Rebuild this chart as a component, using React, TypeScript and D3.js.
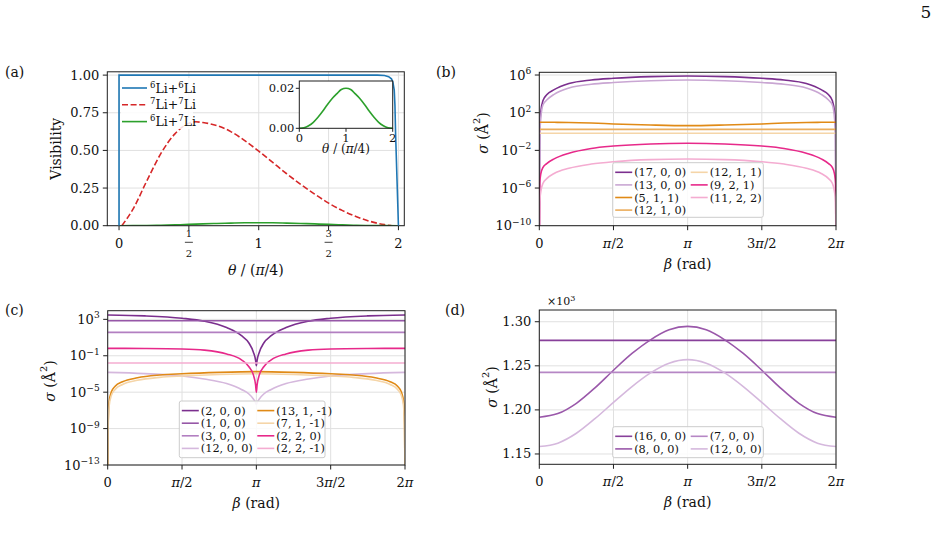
import React, { useRef, useEffect } from "react";
import * as d3 from "d3";

const W = 939;
const H = 546;
const FONT = "'DejaVu Serif', 'Liberation Serif', serif";
const INK = "#1e1e1e";
const GRID = "#e0e0e0";
const TICK_FS = 13;
const LABEL_FS = 14;
const LEGEND_FS = 11.3;

// (a) visibility against theta / (pi/4)
const thetaLi66 = [0, 0, 1.85, 1.9, 1.93, 1.95, 1.96, 1.97, 1.975, 1.98, 1.99, 2.0];
const visLi66 = [0, 1.0, 1.0, 0.997, 0.99, 0.975, 0.955, 0.9, 0.8, 0.6, 0.3, 0];
const thetaLi77 = [0.02, 0.1, 0.2, 0.3, 0.4, 0.5, 0.55, 0.6, 0.7, 0.8, 0.9, 1.0, 1.1, 1.2, 1.3, 1.4, 1.5, 1.6, 1.7, 1.8, 1.9, 1.95];
const visLi77 = [0, 0.11, 0.3, 0.48, 0.61, 0.68, 0.69, 0.685, 0.665, 0.625, 0.565, 0.495, 0.42, 0.345, 0.275, 0.21, 0.15, 0.1, 0.06, 0.028, 0.007, 0];
const thetaLi67 = [0, 0.1, 0.2, 0.3, 0.4, 0.5, 0.6, 0.7, 0.8, 0.9, 1.0, 1.1, 1.2, 1.3, 1.4, 1.5, 1.6, 1.7, 1.8, 1.9, 2.0];
const visLi67 = [0, 0.0003, 0.0013, 0.003, 0.0055, 0.0085, 0.0118, 0.0148, 0.0172, 0.0194, 0.02, 0.0194, 0.0172, 0.0148, 0.0118, 0.0085, 0.0055, 0.003, 0.0013, 0.0003, 0];
const visTicks = [0, 0.25, 0.5, 0.75, 1.0];
const visTickLabels = ["0.00", "0.25", "0.50", "0.75", "1.00"];
const thetaTicks = [0, 0.5, 1, 1.5, 2];

// beta grids, in units of pi
const betaEdge = [0, 0.003, 0.01, 0.025, 0.05, 0.1, 0.2, 0.35, 0.5, 0.75, 1, 1.25, 1.5, 1.65, 1.8, 1.9, 1.95, 1.975, 1.99, 1.997, 2];
const betaCusp = [0, 0.25, 0.5, 0.65, 0.8, 0.9, 0.95, 0.98, 0.995, 1, 1.005, 1.02, 1.05, 1.1, 1.2, 1.35, 1.5, 1.75, 2];
const betaSmooth = [0, 0.125, 0.25, 0.375, 0.5, 0.625, 0.75, 0.875, 1, 1.125, 1.25, 1.375, 1.5, 1.625, 1.75, 1.875, 2];
const betaFlat = [0, 2];
const betaTicks = [0, 0.5, 1, 1.5, 2];

// (b) cross sections, A^2
const sigB_17_0_0 = [1e-12, 3.2, 126, 2.0e3, 7.9e3, 2.8e4, 1.26e5, 3.0e5, 4.5e5, 6.8e5, 7.9e5, 6.8e5, 4.5e5, 3.0e5, 1.26e5, 2.8e4, 7.9e3, 2.0e3, 126, 3.2, 1e-12];
const sigB_13_0_0 = [1e-12, 0.32, 25, 710, 2.2e3, 8.9e3, 4.2e4, 1.05e5, 1.6e5, 2.5e5, 2.95e5, 2.5e5, 1.6e5, 1.05e5, 4.2e4, 8.9e3, 2.2e3, 710, 25, 0.32, 1e-12];
const sigB_5_1_1 = [9.6, 9.6, 9.6, 9.6, 9.6, 9.5, 9.2, 8.0, 6.4, 4.9, 4.2, 4.9, 6.4, 8.0, 9.2, 9.5, 9.6, 9.6, 9.6, 9.6, 9.6];
const sigB_12_1_0 = [1.7, 1.7];
const sigB_12_1_1 = [0.65, 0.65];
const sigB_9_2_1 = [1e-12, 3.2e-6, 3.2e-5, 1.6e-4, 4e-4, 1.26e-3, 5e-3, 1.6e-2, 2.9e-2, 4.8e-2, 5.6e-2, 4.8e-2, 2.9e-2, 1.6e-2, 5e-3, 1.26e-3, 4e-4, 1.6e-4, 3.2e-5, 3.2e-6, 1e-12];
const sigB_11_2_2 = [1e-12, 3.2e-8, 4e-7, 3.2e-6, 1e-5, 3.5e-5, 1.26e-4, 3.5e-4, 6.3e-4, 1.05e-3, 1.2e-3, 1.05e-3, 6.3e-4, 3.5e-4, 1.26e-4, 3.5e-5, 1e-5, 3.2e-6, 4e-7, 3.2e-8, 1e-12];

// (c)
const sigC_2_0_0 = [3000, 2400, 1320, 630, 126, 16, 2.5, 0.25, 0.032, 0.008, 0.032, 0.25, 2.5, 16, 126, 630, 1320, 2400, 3000];
const sigC_1_0_0 = [710, 710];
const sigC_3_0_0 = [37, 37];
const sigC_12_0_0 = [1.5e-3, 1.1e-3, 6e-4, 2.8e-4, 8.9e-5, 2e-5, 6.3e-6, 1.8e-6, 7e-7, 4.5e-7, 7e-7, 1.8e-6, 6.3e-6, 2e-5, 8.9e-5, 2.8e-4, 6e-4, 1.1e-3, 1.5e-3];
const sigC_13_1_m1 = [1e-14, 3.2e-9, 1e-6, 1.1e-5, 4.5e-5, 1.4e-4, 3.8e-4, 7.6e-4, 1.05e-3, 1.5e-3, 1.8e-3, 1.5e-3, 1.05e-3, 7.6e-4, 3.8e-4, 1.4e-4, 4.5e-5, 1.1e-5, 1e-6, 3.2e-9, 1e-14];
const sigC_7_1_m1 = [1e-14, 1e-9, 3.2e-7, 4.5e-6, 2e-5, 7e-5, 2e-4, 4.2e-4, 6e-4, 8.9e-4, 1.07e-3, 8.9e-4, 6e-4, 4.2e-4, 2e-4, 7e-5, 2e-5, 4.5e-6, 3.2e-7, 1e-9, 1e-14];
const sigC_2_2_0 = [0.65, 0.63, 0.56, 0.42, 0.16, 0.035, 6.3e-3, 7.9e-4, 6.3e-5, 1e-5, 6.3e-5, 7.9e-4, 6.3e-3, 0.035, 0.16, 0.42, 0.56, 0.63, 0.65];
const sigC_2_2_m1 = [0.016, 0.016];

// (d)
const sigD_16_0_0 = [1278.8, 1278.8];
const sigD_8_0_0 = [1191.7, 1195.8, 1207.5, 1225, 1245, 1264, 1279.5, 1290.8, 1294.7, 1290.8, 1279.5, 1264, 1245, 1225, 1207.5, 1195.8, 1191.7];
const sigD_7_0_0 = [1242.6, 1242.6];
const sigD_12_0_0 = [1158.5, 1162.3, 1173.5, 1190, 1208.5, 1226.5, 1242, 1253, 1257, 1253, 1242, 1226.5, 1208.5, 1190, 1173.5, 1162.3, 1158.5];
const dTicks = [1150, 1200, 1250, 1300];
const dTickLabels = ["1.15", "1.20", "1.25", "1.30"];

type Box = { l: number; r: number; t: number; b: number };
type Series = { label: string; color: string; beta: number[]; sigma: number[] };

function txt(g: any, x: number, y: number, size: number, anchor = "middle") {
  return g
    .append("text")
    .attr("x", x)
    .attr("y", y)
    .attr("font-size", size)
    .attr("text-anchor", anchor)
    .attr("font-family", FONT)
    .attr("fill", "#111");
}

// "10" with a raised exponent
function pow10(t: any, exp: number, size: number) {
  t.append("tspan").text("10");
  t.append("tspan")
    .attr("font-size", size * 0.7)
    .attr("dy", -size * 0.42)
    .text(exp < 0 ? "\u2212" + -exp : String(exp));
}

function piLabel(t: any, v: number) {
  const it = (s: string) => t.append("tspan").attr("font-style", "italic").text(s);
  const up = (s: string) => t.append("tspan").text(s);
  if (v === 0) up("0");
  else if (v === 0.5) { it("\u03c0"); up("/2"); }
  else if (v === 1) it("\u03c0");
  else if (v === 1.5) { up("3"); it("\u03c0"); up("/2"); }
  else { up("2"); it("\u03c0"); }
}

function sigmaLabel(g: any, x: number, y: number) {
  const t = txt(g, 0, 0, LABEL_FS).attr("transform", `translate(${x},${y}) rotate(-90)`);
  t.append("tspan").attr("font-style", "italic").text("\u03c3");
  t.append("tspan").text(" (\u00c5");
  t.append("tspan").attr("font-size", LABEL_FS * 0.7).attr("dy", -LABEL_FS * 0.55).text("2");
  t.append("tspan").attr("dy", LABEL_FS * 0.55).text(")");
}

function frame(g: any, box: Box) {
  g.append("rect")
    .attr("x", box.l)
    .attr("y", box.t)
    .attr("width", box.r - box.l)
    .attr("height", box.b - box.t)
    .attr("fill", "none")
    .attr("stroke", INK)
    .attr("stroke-width", 1);
}

function grid(g: any, box: Box, xs: number[], ys: number[]) {
  xs.forEach((px) =>
    g.append("line").attr("x1", px).attr("x2", px).attr("y1", box.t).attr("y2", box.b).attr("stroke", GRID).attr("stroke-width", 1)
  );
  ys.forEach((py) =>
    g.append("line").attr("x1", box.l).attr("x2", box.r).attr("y1", py).attr("y2", py).attr("stroke", GRID).attr("stroke-width", 1)
  );
}

function ticks(g: any, box: Box, xs: number[], ys: number[], len = 4.5) {
  xs.forEach((px) =>
    g.append("line").attr("x1", px).attr("x2", px).attr("y1", box.b).attr("y2", box.b + len).attr("stroke", INK)
  );
  ys.forEach((py) =>
    g.append("line").attr("x1", box.l - len).attr("x2", box.l).attr("y1", py).attr("y2", py).attr("stroke", INK)
  );
}

function clip(svg: any, id: string, box: Box) {
  svg.append("defs")
    .append("clipPath")
    .attr("id", id)
    .append("rect")
    .attr("x", box.l)
    .attr("y", box.t)
    .attr("width", box.r - box.l)
    .attr("height", box.b - box.t);
}

function legendBox(g: any, x: number, y: number, w: number, h: number, stroke = "#cccccc") {
  g.append("rect")
    .attr("x", x)
    .attr("y", y)
    .attr("width", w)
    .attr("height", h)
    .attr("rx", 2)
    .attr("fill", "#fff")
    .attr("fill-opacity", 0.85)
    .attr("stroke", stroke)
    .attr("stroke-width", 1);
}

function drawBetaPanel(
  svg: any,
  id: string,
  box: Box,
  y: any,
  yTicks: number[],
  yTickText: (t: any, v: number, i: number) => void,
  series: Series[],
  leg: { x: number; y: number; w: number; h: number; rows: number },
  yLabel: { x: number; y: number }
) {
  const g = svg.append("g");
  const x = d3.scaleLinear().domain([0, 2 * Math.PI]).range([box.l, box.r]);
  const xs = betaTicks.map((b) => x(b * Math.PI));
  const ys = yTicks.map((v) => y(v));
  clip(svg, id, box);
  grid(g, box, xs, ys);

  const plot = g.append("g").attr("clip-path", `url(#${id})`);
  series.forEach((s) => {
    const line = d3
      .line<number>()
      .x((_, i) => x(s.beta[i] * Math.PI))
      .y((v) => y(v))
      .curve(d3.curveMonotoneX);
    plot.append("path").attr("d", line(s.sigma)).attr("fill", "none").attr("stroke", s.color).attr("stroke-width", 1.6);
  });

  frame(g, box);
  ticks(g, box, xs, ys);

  betaTicks.forEach((b, i) => piLabel(txt(g, xs[i], box.b + 22, TICK_FS), b));
  yTicks.forEach((v, i) => yTickText(txt(g, box.l - 8, ys[i] + 4.5, TICK_FS, "end"), v, i));

  const xl = txt(g, (box.l + box.r) / 2, box.b + 43, LABEL_FS);
  xl.append("tspan").attr("font-style", "italic").text("\u03b2");
  xl.append("tspan").text(" (rad)");
  sigmaLabel(g, yLabel.x, yLabel.y);

  // two-column legend, filled column by column
  legendBox(g, leg.x, leg.y, leg.w, leg.h);
  series.forEach((s, i) => {
    const col = Math.floor(i / leg.rows);
    const row = i % leg.rows;
    const hx = leg.x + 2.5 + col * 75.5;
    const hy = leg.y + 9.6 + row * 12.6;
    g.append("line").attr("x1", hx).attr("x2", hx + 17).attr("y1", hy).attr("y2", hy).attr("stroke", s.color).attr("stroke-width", 1.6);
    txt(g, hx + 19, hy + 4, LEGEND_FS, "start").text(s.label);
  });
}

function drawPanelA(svg: any) {
  const box: Box = { l: 107.3, r: 404.3, t: 71.8, b: 225.7 };
  const g = svg.append("g");
  const x = d3.scaleLinear().domain([-0.084, 2.042]).range([box.l, box.r]);
  const y = d3.scaleLinear().domain([0, 1.022]).range([box.b, box.t]);
  const xs = thetaTicks.map((v) => x(v));
  const ys = visTicks.map((v) => y(v));
  clip(svg, "clip-a", box);
  grid(g, box, xs, ys);

  const plot = g.append("g").attr("clip-path", "url(#clip-a)");
  const lin = (th: number[], curve: any) =>
    d3.line<number>().x((_, i) => x(th[i])).y((v) => y(v)).curve(curve);
  plot.append("path").attr("d", lin(thetaLi77, d3.curveMonotoneX)(visLi77)).attr("fill", "none").attr("stroke", "#d62728").attr("stroke-width", 1.6).attr("stroke-dasharray", "6,2.6");
  plot.append("path").attr("d", lin(thetaLi67, d3.curveMonotoneX)(visLi67)).attr("fill", "none").attr("stroke", "#2ca02c").attr("stroke-width", 1.6);

  frame(g, box);
  ticks(g, box, xs, ys);

  visTickLabels.forEach((s, i) => txt(g, box.l - 8, ys[i] + 4.5, TICK_FS, "end").text(s));
  thetaTicks.forEach((v, i) => {
    if (v % 1 === 0) {
      txt(g, xs[i], box.b + 22, TICK_FS).text(String(v));
    } else {
      const num = v === 0.5 ? "1" : "3";
      txt(g, xs[i], box.b + 11.5, 10).text(num);
      g.append("line").attr("x1", xs[i] - 4).attr("x2", xs[i] + 4).attr("y1", box.b + 16.6).attr("y2", box.b + 16.6).attr("stroke", "#111").attr("stroke-width", 0.8);
      txt(g, xs[i], box.b + 31, 10).text("2");
    }
  });

  const xl = txt(g, (box.l + box.r) / 2, box.b + 49, LABEL_FS);
  xl.append("tspan").attr("font-style", "italic").text("\u03b8");
  xl.append("tspan").text(" / (");
  xl.append("tspan").attr("font-style", "italic").text("\u03c0");
  xl.append("tspan").text("/4)");
  txt(g, 0, 0, LABEL_FS).attr("transform", `translate(61,${(box.t + box.b) / 2}) rotate(-90)`).text("Visibility");

  // legend with a borderless white backing
  legendBox(g, 121, 78, 72, 51, "none");
  // the 6Li+6Li curve hugs the frame, so it stays above the legend backing
  g.append("g").attr("clip-path", "url(#clip-a)")
    .append("path").attr("d", lin(thetaLi66, d3.curveLinear)(visLi66)).attr("fill", "none").attr("stroke", "#1f77b4").attr("stroke-width", 1.6);
  const entries = [
    { c: "#1f77b4", dash: null, a: "6", b: "6" },
    { c: "#d62728", dash: "6,2.6", a: "7", b: "7" },
    { c: "#2ca02c", dash: null, a: "6", b: "7" },
  ];
  entries.forEach((e, i) => {
    const hy = 88 + i * 16.8;
    const ln = g.append("line").attr("x1", 122).attr("x2", 147).attr("y1", hy).attr("y2", hy).attr("stroke", e.c).attr("stroke-width", 1.6);
    if (e.dash) ln.attr("stroke-dasharray", e.dash);
    const t = txt(g, 150, hy + 4.5, 12.5, "start");
    t.append("tspan").attr("font-size", 8.5).attr("dy", -5).text(e.a);
    t.append("tspan").attr("dy", 5).text("Li+");
    t.append("tspan").attr("font-size", 8.5).attr("dy", -5).text(e.b);
    t.append("tspan").attr("dy", 5).text("Li");
  });

  // inset: the 6Li+7Li curve on its own scale
  const ib: Box = { l: 299.3, r: 392.7, t: 81, b: 128.3 };
  const ix = d3.scaleLinear().domain([0, 2]).range([ib.l, ib.r]);
  const iy = d3.scaleLinear().domain([0, 0.02365]).range([ib.b, ib.t]);
  g.append("rect").attr("x", ib.l).attr("y", ib.t).attr("width", ib.r - ib.l).attr("height", ib.b - ib.t).attr("fill", "#fff");
  const iline = d3.line<number>().x((_, i) => ix(thetaLi67[i])).y((v) => iy(v)).curve(d3.curveMonotoneX);
  g.append("path").attr("d", iline(visLi67)).attr("fill", "none").attr("stroke", "#2ca02c").attr("stroke-width", 1.6);
  frame(g, ib);
  const ixs = [0, 1, 2].map((v) => ix(v));
  const iys = [0, 0.02].map((v) => iy(v));
  ticks(g, ib, ixs, iys, 3.5);
  ["0", "1", "2"].forEach((s, i) => txt(g, ixs[i], ib.b + 14, 11.5).text(s));
  ["0.00", "0.02"].forEach((s, i) => txt(g, ib.l - 5, iys[i] + 4, 11.5, "end").text(s));
  const il = txt(g, (ib.l + ib.r) / 2, ib.b + 25, 12);
  il.append("tspan").attr("font-style", "italic").text("\u03b8");
  il.append("tspan").text(" / (");
  il.append("tspan").attr("font-style", "italic").text("\u03c0");
  il.append("tspan").text("/4)");
}

function App() {
  const svgRef = useRef<SVGSVGElement>(null);

  useEffect(() => {
    const svg = d3.select(svgRef.current);
    svg.selectAll("*").remove();
    svg.append("rect").attr("width", W).attr("height", H).attr("fill", "#fff");

    drawPanelA(svg);

    const boxB: Box = { l: 539.3, r: 836, t: 72.3, b: 225.7 };
    const yB = d3.scaleLog().domain([1e-10, Math.pow(10, 6.29)]).range([boxB.b, boxB.t]);
    const expB = [-10, -6, -2, 2, 6];
    drawBetaPanel(
      svg, "clip-b", boxB, yB, expB.map((e) => Math.pow(10, e)),
      (t, _v, i) => pow10(t, expB[i], TICK_FS),
      [
        { label: "(17, 0, 0)", color: "#7b2f8e", beta: betaEdge, sigma: sigB_17_0_0 },
        { label: "(13, 0, 0)", color: "#c9a6d3", beta: betaEdge, sigma: sigB_13_0_0 },
        { label: "(5, 1, 1)", color: "#e08a16", beta: betaEdge, sigma: sigB_5_1_1 },
        { label: "(12, 1, 0)", color: "#ebad5c", beta: betaFlat, sigma: sigB_12_1_0 },
        { label: "(12, 1, 1)", color: "#f5d5a8", beta: betaFlat, sigma: sigB_12_1_1 },
        { label: "(9, 2, 1)", color: "#e7298a", beta: betaEdge, sigma: sigB_9_2_1 },
        { label: "(11, 2, 2)", color: "#f4acd1", beta: betaEdge, sigma: sigB_11_2_2 },
      ],
      { x: 612.7, y: 162.7, w: 150.6, h: 54.6, rows: 4 },
      { x: 488, y: 133 }
    );

    const boxC: Box = { l: 107.7, r: 405, t: 310.7, b: 465 };
    const yC = d3.scaleLog().domain([1e-13, Math.pow(10, 3.95)]).range([boxC.b, boxC.t]);
    const expC = [-13, -9, -5, -1, 3];
    drawBetaPanel(
      svg, "clip-c", boxC, yC, expC.map((e) => Math.pow(10, e)),
      (t, _v, i) => pow10(t, expC[i], TICK_FS),
      [
        { label: "(2, 0, 0)", color: "#7b2f8e", beta: betaCusp, sigma: sigC_2_0_0 },
        { label: "(1, 0, 0)", color: "#9657a7", beta: betaFlat, sigma: sigC_1_0_0 },
        { label: "(3, 0, 0)", color: "#b27fc1", beta: betaFlat, sigma: sigC_3_0_0 },
        { label: "(12, 0, 0)", color: "#d5b8dd", beta: betaCusp, sigma: sigC_12_0_0 },
        { label: "(13, 1, -1)", color: "#e08a16", beta: betaEdge, sigma: sigC_13_1_m1 },
        { label: "(7, 1, -1)", color: "#f5d5a8", beta: betaEdge, sigma: sigC_7_1_m1 },
        { label: "(2, 2, 0)", color: "#e7298a", beta: betaCusp, sigma: sigC_2_2_0 },
        { label: "(2, 2, -1)", color: "#f4acd1", beta: betaFlat, sigma: sigC_2_2_m1 },
      ],
      { x: 179.3, y: 401, w: 145.7, h: 56.7, rows: 4 },
      { x: 55, y: 381 }
    );

    const boxD: Box = { l: 539.3, r: 836, t: 310, b: 464.3 };
    const yD = d3.scaleLinear().domain([1138.3, 1313.3]).range([boxD.b, boxD.t]);
    drawBetaPanel(
      svg, "clip-d", boxD, yD, dTicks,
      (t, _v, i) => t.text(dTickLabels[i]),
      [
        { label: "(16, 0, 0)", color: "#88409a", beta: betaFlat, sigma: sigD_16_0_0 },
        { label: "(8, 0, 0)", color: "#9a58aa", beta: betaSmooth, sigma: sigD_8_0_0 },
        { label: "(7, 0, 0)", color: "#b687c5", beta: betaFlat, sigma: sigD_7_0_0 },
        { label: "(12, 0, 0)", color: "#d5b8dd", beta: betaSmooth, sigma: sigD_12_0_0 },
      ],
      { x: 612.7, y: 426.7, w: 150.6, h: 31, rows: 2 },
      { x: 496.5, y: 387 }
    );
    const off = txt(svg, 547, 305, 11, "start");
    off.append("tspan").text("\u00d710");
    off.append("tspan").attr("font-size", 8).attr("dy", -4.5).text("3");

    // panel tags and page number
    txt(svg, 5, 76.5, 14, "start").text("(a)");
    txt(svg, 436, 76.5, 14, "start").text("(b)");
    txt(svg, 5, 314.5, 14, "start").text("(c)");
    txt(svg, 445, 314.5, 14, "start").text("(d)");
    txt(svg, 926, 18, 17).text("5");

    // superscripts of the caption line just below the page edge
    const capX = [437, 468, 498, 530, 588, 620];
    const capSup = ["6", "6", "7", "7", "6", "7"];
    capX.forEach((cx, i) => txt(svg, cx, 553.5, 11).text(capSup[i]));
  }, []);

  return (
    <svg
      ref={svgRef}
      width={W}
      height={H}
      style={{ position: "absolute", left: 0, top: 0, background: "#fff" }}
    />
  );
}

export default App;
